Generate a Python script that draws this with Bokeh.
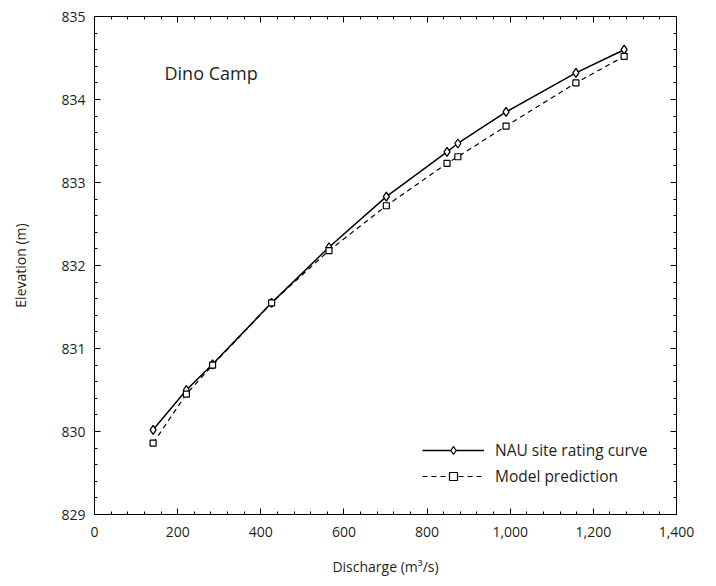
from bokeh.plotting import figure
from bokeh.models import (LinearAxis, NumeralTickFormatter, Legend, LegendItem, Label,
                          Range1d, SingleIntervalTicker)
from bokeh.embed import file_html
from bokeh.resources import INLINE

discharge = [141, 221, 284, 426, 564, 702, 848, 874, 990, 1158, 1274]
nau_elev = [830.02, 830.50, 830.81, 831.55, 832.22, 832.83, 833.37, 833.47, 833.85, 834.32, 834.60]
model_elev = [829.86, 830.45, 830.80, 831.55, 832.18, 832.72, 833.23, 833.31, 833.68, 834.20, 834.52]
site_name = "Dino Camp"
x_label = "Discharge (m³/s)"
y_label = "Elevation (m)"
series_names = ["NAU site rating curve", "Model prediction"]

FONT = "Open Sans"

p = figure(width=700, height=578, output_backend="svg", toolbar_location=None,
           x_range=Range1d(0, 1400), y_range=Range1d(829, 835),
           min_border_left=94, min_border_right=24, min_border_top=16, min_border_bottom=64,
           x_axis_label=x_label, y_axis_label=y_label)
p.xgrid.visible = False
p.ygrid.visible = False
p.outline_line_color = "black"
p.outline_line_width = 1
p.background_fill_color = "white"
p.border_fill_color = "white"

p.xaxis.ticker = SingleIntervalTicker(interval=200, num_minor_ticks=5)
p.yaxis.ticker = SingleIntervalTicker(interval=1, num_minor_ticks=5)
p.xaxis.formatter = NumeralTickFormatter(format="0,0")

for ax in [p.xaxis[0], p.yaxis[0]]:
    ax.major_tick_out = 0
    ax.major_tick_in = 6
    ax.minor_tick_out = 0
    ax.minor_tick_in = 3
    ax.axis_line_color = "black"
    ax.major_tick_line_color = "black"
    ax.minor_tick_line_color = "black"
    ax.major_label_text_font = FONT
    ax.major_label_text_font_size = "14px"
    ax.major_label_text_color = "#231f20"
    ax.axis_label_text_font = FONT
    ax.axis_label_text_font_size = "14px"
    ax.axis_label_text_font_style = "normal"
    ax.axis_label_text_color = "#231f20"

p.yaxis.major_label_standoff = 9
p.yaxis.axis_label_standoff = 28
p.xaxis.major_label_standoff = 12
p.xaxis.axis_label_standoff = 17

for loc, ticker in [("above", SingleIntervalTicker(interval=200, num_minor_ticks=5)),
                    ("right", SingleIntervalTicker(interval=1, num_minor_ticks=5))]:
    ax = LinearAxis(ticker=ticker)
    ax.major_tick_out = 0
    ax.major_tick_in = 6
    ax.minor_tick_out = 0
    ax.minor_tick_in = 3
    ax.major_label_text_font_size = "0px"
    ax.major_label_text_color = None
    ax.major_label_standoff = 0
    ax.axis_line_color = "black"
    p.add_layout(ax, loc)

l1 = p.line(discharge, nau_elev, line_color="black", line_width=1.5)
m1 = p.scatter(discharge, nau_elev, marker="diamond", size=9, fill_color="white",
               line_color="black", line_width=1.3)
l2 = p.line(discharge, model_elev, line_color="black", line_width=1.2, line_dash="5 4")
m2 = p.scatter(discharge, model_elev, marker="square", size=6, fill_color="white",
               line_color="black", line_width=1.2)

legend = Legend(items=[LegendItem(label=series_names[0], renderers=[l1, m1]),
                       LegendItem(label=series_names[1], renderers=[l2, m2])],
                location=(328, 27), orientation="vertical")
legend.glyph_width = 62
legend.glyph_height = 20
legend.label_height = 20
legend.spacing = 4
legend.padding = 0
legend.margin = 0
legend.label_standoff = 11
legend.border_line_color = None
legend.background_fill_alpha = 0
legend.label_text_font = FONT
legend.label_text_font_size = "15.5px"
legend.label_text_color = "#231f20"
p.add_layout(legend, "center")

p.add_layout(Label(x=70, y=442, x_units="screen", y_units="screen", text=site_name,
                   text_font=FONT, text_font_size="18px", text_baseline="middle",
                   text_color="#231f20"))

open("out.html", "w").write(file_html(p, INLINE))
